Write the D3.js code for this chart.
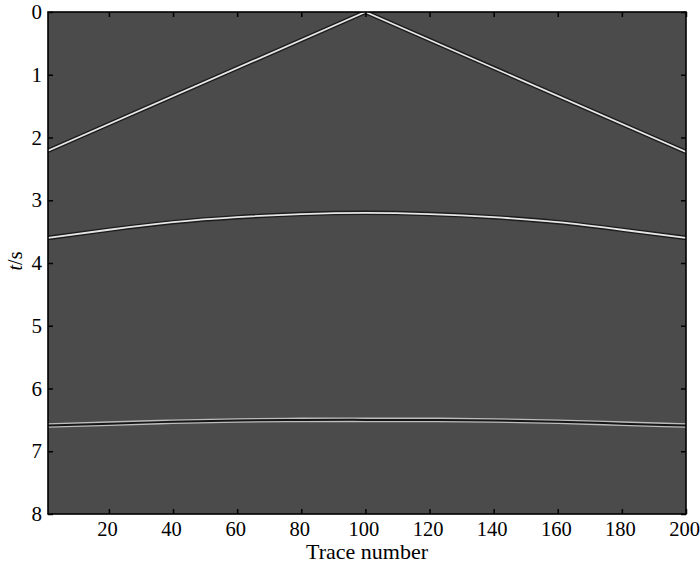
<!DOCTYPE html>
<html lang="en">
<head>
<meta charset="UTF-8">
<title>Shot gather</title>
<script src="https://cdn.jsdelivr.net/npm/d3@7"></script>
<style>
  body { margin: 0; background: #fff; }
  svg text { font-family: "Liberation Serif", "Times New Roman", serif; fill: #000; }
</style>
</head>
<body>
<div id="chart"></div>
<script>
const traces = [1, 20, 40, 60, 80, 100, 120, 140, 160, 180, 200];
const reflection1 = [3.60, 3.47, 3.35, 3.27, 3.22, 3.20, 3.22, 3.27, 3.35, 3.47, 3.60];
const reflection2 = [6.59, 6.56, 6.53, 6.51, 6.50, 6.50, 6.50, 6.51, 6.53, 6.56, 6.59];
const directTraces = [1, 100, 200];
const directTimes = [2.21, 0, 2.23];
const xTicks = [20, 40, 60, 80, 100, 120, 140, 160, 180, 200];
const yTicks = [0, 1, 2, 3, 4, 5, 6, 7, 8];

const width = 700, height = 564;
const plotL = 48, plotR = 686, plotT = 12, plotB = 514;

const svg = d3.select("#chart").append("svg")
    .attr("width", width)
    .attr("height", height);

const x = d3.scaleLinear().domain([1, 200]).range([plotL, plotR]);
const y = d3.scaleLinear().domain([0, 8]).range([plotT, plotB]);

svg.append("defs").append("clipPath")
    .attr("id", "plotClip")
  .append("rect")
    .attr("x", plotL).attr("y", plotT)
    .attr("width", plotR - plotL).attr("height", plotB - plotT);

// background of the section
svg.append("rect")
    .attr("x", plotL).attr("y", plotT)
    .attr("width", plotR - plotL).attr("height", plotB - plotT)
    .attr("fill", "#4b4b4b");

const events = svg.append("g").attr("clip-path", "url(#plotClip)");

const smooth = d3.line().x(d => x(d[0])).y(d => y(d[1])).curve(d3.curveNatural);
const straight = d3.line().x(d => x(d[0])).y(d => y(d[1]));

const direct = directTraces.map((t, i) => [t, directTimes[i]]);
const r1 = traces.map((t, i) => [t, reflection1[i]]);
const r2 = traces.map((t, i) => [t, reflection2[i]]);

// positive wavelets: dark side lobes, white peak
[straight(direct), smooth(r1)].forEach(d => {
  events.append("path").attr("d", d).attr("fill", "none")
      .attr("stroke", "#1c1c1c").attr("stroke-width", 4.6);
  events.append("path").attr("d", d).attr("fill", "none")
      .attr("stroke", "#e6e6e6").attr("stroke-width", 1.8);
});

// reversed polarity at the deep reflector
events.append("path").attr("d", smooth(r2)).attr("fill", "none")
    .attr("stroke", "#bdbdbd").attr("stroke-width", 4.6);
events.append("path").attr("d", smooth(r2)).attr("fill", "none")
    .attr("stroke", "#151515").attr("stroke-width", 2);

// axes, ticks inward on all four sides
const tickLen = 5;
svg.append("g")
    .attr("transform", `translate(0,${plotB})`)
    .call(d3.axisBottom(x).tickValues(xTicks).tickSize(-tickLen).tickPadding(7))
    .call(g => g.select(".domain").remove())
    .call(g => g.selectAll(".tick text").attr("dx", -2).attr("font-size", 20.5));
svg.append("g")
    .attr("transform", `translate(0,${plotT})`)
    .call(d3.axisTop(x).tickValues(xTicks).tickSize(-tickLen).tickFormat(""))
    .call(g => g.select(".domain").remove());
svg.append("g")
    .attr("transform", `translate(${plotL},0)`)
    .call(d3.axisLeft(y).tickValues(yTicks).tickSize(-tickLen).tickPadding(6))
    .call(g => g.select(".domain").remove())
    .call(g => g.selectAll(".tick text").attr("font-size", 21));
svg.append("g")
    .attr("transform", `translate(${plotR},0)`)
    .call(d3.axisRight(y).tickValues(yTicks).tickSize(-tickLen).tickFormat(""))
    .call(g => g.select(".domain").remove());

svg.selectAll(".tick line").attr("stroke", "#000").attr("stroke-width", 1.5);
svg.selectAll(".tick text")
    .attr("font-family", "Liberation Serif, serif").attr("fill", "#000");

svg.append("rect")
    .attr("x", plotL).attr("y", plotT)
    .attr("width", plotR - plotL).attr("height", plotB - plotT)
    .attr("fill", "none")
    .attr("stroke", "#000")
    .attr("stroke-width", 1.6);

svg.append("text")
    .attr("x", (plotL + plotR) / 2)
    .attr("y", 559)
    .attr("text-anchor", "middle")
    .attr("font-size", 22)
    .text("Trace number");

const ylab = svg.append("text")
    .attr("transform", `translate(22,261) rotate(-90)`)
    .attr("text-anchor", "middle")
    .attr("font-size", 20);
ylab.append("tspan").attr("font-style", "italic").text("t");
ylab.append("tspan").text("/s");
</script>
</body>
</html>
